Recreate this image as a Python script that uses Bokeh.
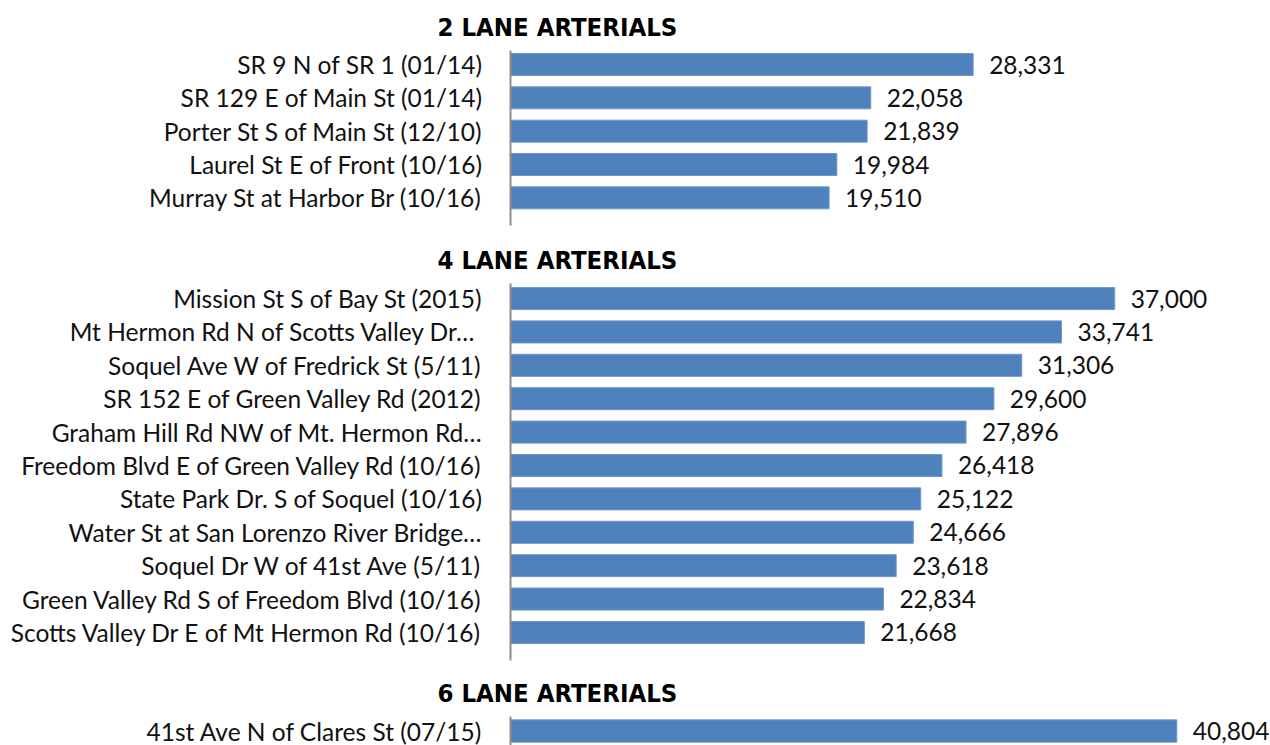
from bokeh.plotting import figure
from bokeh.layouts import column
from bokeh.models import Range1d, FixedTicker, ColumnDataSource, LabelSet, Title
from bokeh.core.properties import value
from bokeh.embed import file_html
from bokeh.resources import INLINE

# ---------------- data ----------------
titles = ["2 LANE ARTERIALS", "4 LANE ARTERIALS", "6 LANE ARTERIALS"]

two_lane_labels = [
    "SR 9 N of SR 1 (01/14)",
    "SR 129 E of Main St (01/14)",
    "Porter St S of Main St (12/10)",
    "Laurel St E of Front (10/16)",
    "Murray St at Harbor Br (10/16)",
]
two_lane_values = [28331, 22058, 21839, 19984, 19510]

four_lane_labels = [
    "Mission St S of Bay St (2015)",
    "Mt Hermon Rd N of Scotts  Valley Dr\u2026",
    "Soquel Ave W of Fredrick St (5/11)",
    "SR 152 E of Green Valley Rd (2012)",
    "Graham Hill Rd NW of Mt. Hermon Rd\u2026",
    "Freedom Blvd E of Green Valley Rd (10/16)",
    "State Park Dr. S of Soquel (10/16)",
    "Water St at San Lorenzo River Bridge\u2026",
    "Soquel Dr W of 41st Ave (5/11)",
    "Green Valley Rd S of Freedom Blvd (10/16)",
    "Scotts Valley Dr E of Mt Hermon Rd (10/16)",
]
four_lane_values = [37000, 33741, 31306, 29600, 27896, 26418, 25122, 24666, 23618, 22834, 21668]

six_lane_labels = ["41st Ave N of Clares St (07/15)"]
six_lane_values = [40804]

# ---------------- style ----------------
BAR = "#4F81BD"
AXIS = "#8C8C8C"
LABEL_FONT = "Lato"
LABEL_SIZE = "24.5px"
TITLE_FONT = "DejaVu Sans Condensed"
FRAME_W = 760
X_MAX = 46540


def panel(title, labels, values, frame_h, y_top_pad, y_bottom_pad, top_border, bottom_border):
    n = len(labels)
    pos = list(range(n))
    src = ColumnDataSource(dict(
        y=pos,
        v=values,
        txt=[f"{v:,}" for v in values],
    ))
    p = figure(
        frame_width=FRAME_W, frame_height=frame_h,
        x_range=Range1d(0, X_MAX),
        y_range=Range1d(n - 1 + y_bottom_pad, -y_top_pad),
        output_backend="svg", toolbar_location=None,
        min_border_left=510, min_border_right=0,
        min_border_top=top_border, min_border_bottom=bottom_border,
        outline_line_color=None, background_fill_color="white",
    )
    p.title = Title(text=title, text_font=TITLE_FONT, text_font_style="bold",
                    text_font_size="25.5px", text_color="black", align="left",
                    offset=-73, standoff=18)
    p.hbar(y="y", left=0, right="v", height=0.66, source=src,
           fill_color=BAR, line_color="#6F97C9", line_width=1)
    p.add_layout(LabelSet(x="v", y="y", text="txt", source=src, x_offset=16,
                          text_baseline="middle", text_font=value(LABEL_FONT),
                          text_font_size=value(LABEL_SIZE), text_color="#111111"))
    p.xaxis.visible = False
    p.xgrid.visible = False
    p.ygrid.visible = False
    ya = p.yaxis[0]
    ya.ticker = FixedTicker(ticks=pos)
    ya.major_label_overrides = {i: lab for i, lab in enumerate(labels)}
    ya.major_tick_line_color = None
    ya.minor_tick_line_color = None
    ya.major_tick_out = 0
    ya.major_tick_in = 0
    ya.major_label_standoff = 28
    ya.axis_line_color = AXIS
    ya.axis_line_width = 2
    ya.major_label_text_font = LABEL_FONT
    ya.major_label_text_font_size = LABEL_SIZE
    ya.major_label_text_color = "#111111"
    return p


p1 = panel(titles[0], two_lane_labels, two_lane_values, 175, 0.42, 0.83, 50, 8)
p2 = panel(titles[1], four_lane_labels, four_lane_values, 377, 0.45, 0.84, 50, 6)
p3 = panel(titles[2], six_lane_labels, six_lane_values, 29, 0.43, 0.43, 50, 0)

layout = column(p1, p2, p3, spacing=0)
open("out.html", "w").write(file_html(layout, INLINE))
